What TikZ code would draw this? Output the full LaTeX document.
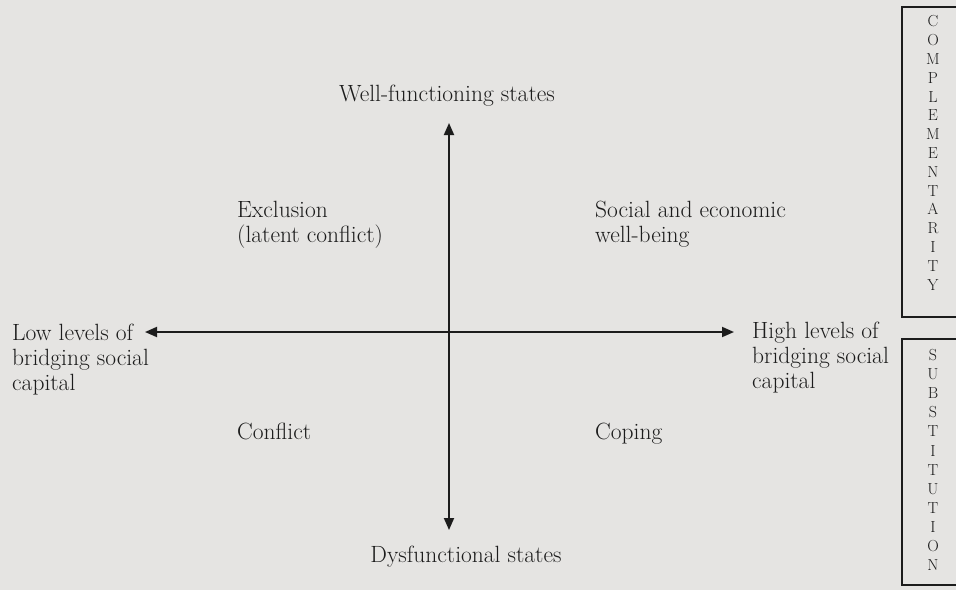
\documentclass[tikz,border=0pt]{standalone}
\usepackage{fontspec}
\usepackage{tikz}
\usetikzlibrary{arrows.meta}
\definecolor{paper}{RGB}{229,228,226}
\definecolor{ink}{RGB}{28,28,28}

\begin{document}
\begin{tikzpicture}[x=1pt,y=-1pt,
  every node/.style={font=\fontsize{23.5}{25}\selectfont,text=ink,inner sep=0pt},
  axis/.style={draw=ink,line width=1.8pt,
    {Triangle[length=12pt,width=10pt]}-{Triangle[length=12pt,width=10pt]}},
  poletext/.style={align=left,anchor=base west},
  boxrim/.style={draw=ink,line width=2pt},
  spelled/.style={align=center}
]
  % background
  \fill[paper] (0,0) rectangle (956,590);
  \clip (0,0) rectangle (956,590);

  % axis ends
  \coordinate (northtip) at (449,123);
  \coordinate (southtip) at (449,530);
  \coordinate (westtip) at (145,332);
  \coordinate (easttip) at (734,332);

  % axes
  \draw[axis] (southtip) -- (northtip);
  \draw[axis] (westtip) -- (easttip);

  % pole labels (base = last line)
  \node[anchor=base] (wellfun) at (447,101) {Well-functioning states};
  \node[anchor=base] (dysfun) at (466,562) {Dysfunctional states};
  \node[poletext] (lowcap) at (12,390)
    {Low levels of\\bridging social\\capital};
  \node[poletext] (highcap) at (752,388)
    {High levels of\\bridging social\\capital};

  % quadrants
  \node[poletext] (exclusion) at (237,242)
    {Exclusion\\(latent conflict)};
  \node[poletext] (wellbeing) at (595,242)
    {Social and economic\\well-being};
  \node[poletext] (conflict) at (237,439) {Conflict};
  \node[poletext] (coping) at (595,439) {Coping};

  % side boxes
  \draw[boxrim] (975,7) -- (902,7) -- (902,317) -- (975,317);
  \draw[boxrim] (975,339) -- (902,339) -- (902,585) -- (975,585);

  \node[spelled,font=\fontsize{16}{18.8}\selectfont] (complement) at (933,153)
    {C\\O\\M\\P\\L\\E\\M\\E\\N\\T\\A\\R\\I\\T\\Y};
  \node[spelled,font=\fontsize{16}{19.1}\selectfont] (substitute) at (933,460)
    {S\\U\\B\\S\\T\\I\\T\\U\\T\\I\\O\\N};
\end{tikzpicture}
\end{document}
